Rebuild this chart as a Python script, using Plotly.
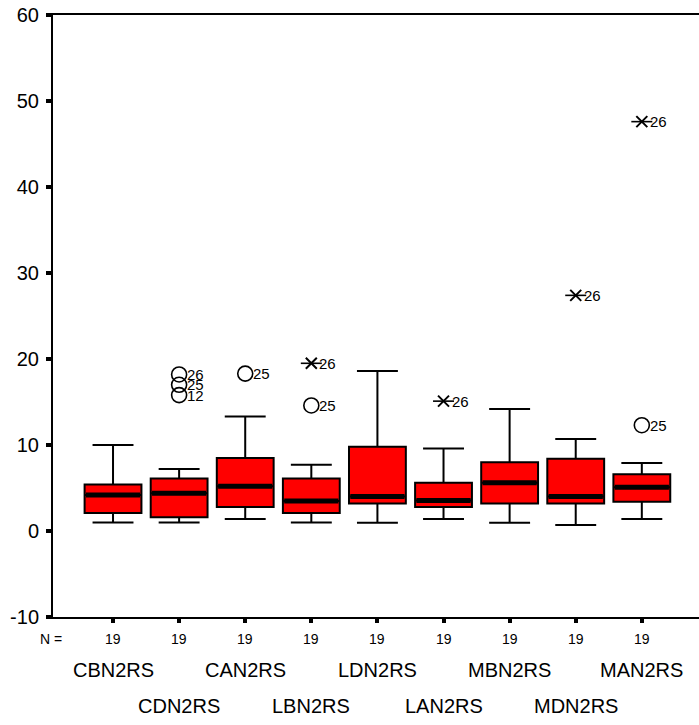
import plotly.graph_objects as go

# Nine repeated-measure variables, each with n = 19
categories = ["CBN2RS", "CDN2RS", "CAN2RS", "LBN2RS", "LDN2RS",
              "LAN2RS", "MBN2RS", "MDN2RS", "MAN2RS"]
counts = [19, 19, 19, 19, 19, 19, 19, 19, 19]

# Box summaries
lower_whisker = [1.0, 1.0, 1.4, 1.0, 0.95, 1.4, 0.95, 0.7, 1.4]
q1 = [2.1, 1.6, 2.8, 2.1, 3.2, 2.8, 3.2, 3.2, 3.4]
median = [4.2, 4.4, 5.2, 3.5, 4.0, 3.55, 5.6, 4.0, 5.1]
q3 = [5.4, 6.1, 8.5, 6.1, 9.8, 5.6, 8.0, 8.4, 6.6]
upper_whisker = [10.0, 7.2, 13.3, 7.7, 18.6, 9.6, 14.2, 10.7, 7.9]

# Outliers (circles) and extremes (asterisks): category index, value, case label
outlier_idx = [1, 1, 1, 2, 3, 8]
outlier_val = [18.2, 17.0, 15.8, 18.3, 14.6, 12.3]
outlier_lab = ["26", "25", "12", "25", "25", "25"]

extreme_idx = [3, 5, 7, 8]
extreme_val = [19.5, 15.1, 27.4, 47.6]
extreme_lab = ["26", "26", "26", "26"]

y_ticks = [-10, 0, 10, 20, 30, 40, 50, 60]
y_tick_text = ["-10", "0", "10", "20", "30", "40", "50", "60"]

FONT = "Liberation Sans, Arial, sans-serif"
BOX_W = 0.86
pos = list(range(len(categories)))

fig = go.Figure()

fig.add_trace(go.Box(
    x=pos, q1=q1, median=median, q3=q3,
    lowerfence=lower_whisker, upperfence=upper_whisker,
    width=BOX_W, whiskerwidth=0.72,
    fillcolor="#ff0000", line=dict(color="black", width=2),
    boxpoints=False, hoverinfo="skip", showlegend=False,
))

# Thick median bands
mx, my = [], []
for i, m in zip(pos, median):
    mx += [i - BOX_W / 2 + 0.02, i + BOX_W / 2 - 0.02, None]
    my += [m, m, None]
fig.add_trace(go.Scatter(x=mx, y=my, mode="lines",
                         line=dict(color="black", width=5),
                         hoverinfo="skip", showlegend=False))

# Outliers
fig.add_trace(go.Scatter(
    x=outlier_idx, y=outlier_val, mode="markers",
    marker=dict(symbol="circle-open", size=15, color="black",
                line=dict(width=1.6, color="black")),
    showlegend=False, hoverinfo="skip"))

# Extremes: X with a horizontal stroke
fig.add_trace(go.Scatter(
    x=extreme_idx, y=extreme_val, mode="markers",
    marker=dict(symbol="x-thin-open", size=11, color="black",
                line=dict(width=2, color="black")),
    showlegend=False, hoverinfo="skip"))
fig.add_trace(go.Scatter(
    x=extreme_idx, y=extreme_val, mode="markers",
    marker=dict(symbol="line-ew-open", size=15, color="black",
                line=dict(width=1.6, color="black")),
    showlegend=False, hoverinfo="skip"))

annotations = []
# Case-number labels beside each outlier / extreme
for i, v, lab in zip(outlier_idx + extreme_idx, outlier_val + extreme_val,
                     outlier_lab + extreme_lab):
    annotations.append(dict(text=lab, x=i, y=v, xref="x", yref="y",
                            xanchor="left", yanchor="middle", xshift=6,
                            showarrow=False,
                            font=dict(family=FONT, size=15, color="black")))
# Sample size row
annotations.append(dict(text="N =", x=0, xref="paper", xshift=-2,
                        y=0, yref="paper", yshift=-22, yanchor="middle",
                        xanchor="center", showarrow=False,
                        font=dict(family=FONT, size=14, color="black")))
for i, n in zip(pos, counts):
    annotations.append(dict(text=str(n), x=i, xref="x", y=0, yref="paper",
                            yshift=-22, yanchor="middle", xanchor="center",
                            showarrow=False,
                            font=dict(family=FONT, size=14, color="black")))
# Staggered category labels
for i, name in zip(pos, categories):
    shift = -53 if i % 2 == 0 else -89
    annotations.append(dict(text=name, x=i, xref="x", y=0, yref="paper",
                            yshift=shift, yanchor="middle", xanchor="center",
                            showarrow=False,
                            font=dict(family=FONT, size=20, color="black")))

fig.update_layout(
    width=699, height=725,
    margin=dict(l=53, r=0, t=15, b=108),
    paper_bgcolor="white", plot_bgcolor="white",
    font=dict(family=FONT, color="black"),
    annotations=annotations,
    xaxis=dict(range=[-0.908, 8.865], tickvals=pos, ticktext=[""] * len(pos),
               ticks="outside", ticklen=4, tickwidth=4, tickcolor="black",
               showline=True, linecolor="black", linewidth=2, mirror=True,
               showgrid=False, zeroline=False, fixedrange=True),
    yaxis=dict(range=[-10, 60], tickvals=y_ticks, ticktext=y_tick_text,
               ticks="outside", ticklen=5, tickwidth=4, tickcolor="black",
               tickfont=dict(family=FONT, size=20, color="black"),
               ticklabelstandoff=3,
               showline=True, linecolor="black", linewidth=2,
               showgrid=False, zeroline=False, fixedrange=True),
)

fig.write_html("out.html")
